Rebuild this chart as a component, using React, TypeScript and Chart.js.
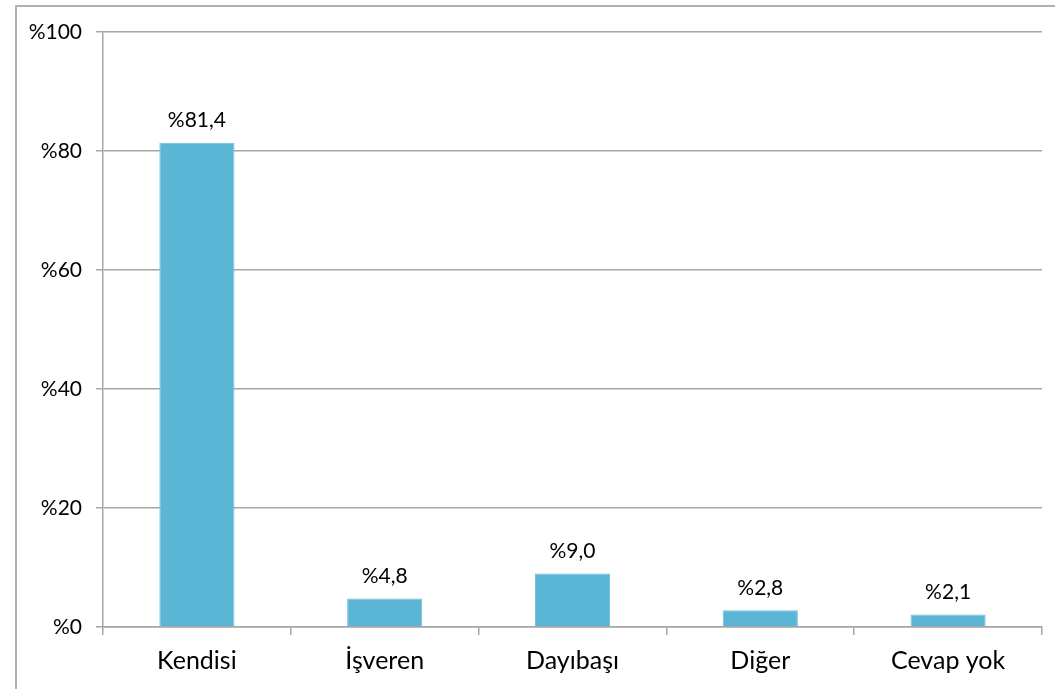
import React, { useEffect, useRef } from "react";
import { Chart, registerables } from "chart.js";

Chart.register(...registerables);

const categories = ["Kendisi", "İşveren", "Dayıbaşı", "Diğer", "Cevap yok"];
const values = [81.4, 4.8, 9.0, 2.8, 2.1];
const yTicks = [0, 20, 40, 60, 80, 100];

const fmt = (v: number) => "%" + v.toFixed(1).replace(".", ",");

const labelPlugin = {
  id: "barLabels",
  afterDatasetsDraw(chart: any) {
    const ctx = chart.ctx;
    const meta = chart.getDatasetMeta(0);
    ctx.save();
    ctx.font = "21px Lato, 'Open Sans', sans-serif";
    ctx.fillStyle = "#000";
    ctx.textAlign = "center";
    ctx.textBaseline = "bottom";
    meta.data.forEach((bar: any, i: number) => {
      ctx.fillText(fmt(values[i]), bar.x, bar.y - 12);
    });
    ctx.restore();
  },
};

export default function App() {
  const ref = useRef<HTMLCanvasElement>(null);
  useEffect(() => {
    document.body.style.overflow = "hidden";
    const chart = new Chart(ref.current!, {
      type: "bar",
      data: {
        labels: categories,
        datasets: [
          {
            data: values,
            backgroundColor: "#5BB5D5",
            borderColor: "#6EC0DC",
            borderWidth: 1,
            barPercentage: 0.4,
            categoryPercentage: 1,
          },
        ],
      },
      options: {
        animation: false,
        responsive: false,
        maintainAspectRatio: false,
        layout: { padding: { top: 32, right: 13, left: 0, bottom: 0 } },
        plugins: { legend: { display: false }, tooltip: { enabled: false } },
        scales: {
          x: {
            grid: {
              offset: true,
              drawOnChartArea: false,
              drawTicks: true,
              tickLength: 8,
              color: "#A6A6A6",
              lineWidth: 1.5,
            },
            border: { color: "#A6A6A6", width: 1.5 },
            ticks: {
              color: "#000",
              font: { family: "Lato, 'Open Sans', sans-serif", size: 25 },
              padding: 11,
            },
            afterFit: (s: any) => {
              s.height = 62;
            },
          },
          y: {
            min: 0,
            max: 100,
            afterBuildTicks: (s: any) => {
              s.ticks = yTicks.map((v) => ({ value: v }));
            },
            grid: {
              color: "#A6A6A6",
              lineWidth: 1.5,
              tickLength: 7,
            },
            border: { color: "#A6A6A6", width: 1.5 },
            ticks: {
              color: "#000",
              font: { family: "Lato, 'Open Sans', sans-serif", size: 21 },
              padding: 14,
              callback: (v: any) => "%" + v,
            },
            afterFit: (s: any) => {
              s.width = 103;
            },
          },
        },
      },
      plugins: [labelPlugin],
    });
    return () => chart.destroy();
  }, []);
  return (
    <div>
      <div
        style={{
          position: "fixed",
          left: 15,
          top: 5,
          width: 1100,
          height: 800,
          borderLeft: "2px solid #B0B0B0",
          borderTop: "2px solid #B0B0B0",
          boxSizing: "border-box",
        }}
      />
      <canvas
        ref={ref}
        width={1055}
        height={689}
        style={{ position: "fixed", left: 0, top: 0, width: 1055, height: 689 }}
      />
    </div>
  );
}
